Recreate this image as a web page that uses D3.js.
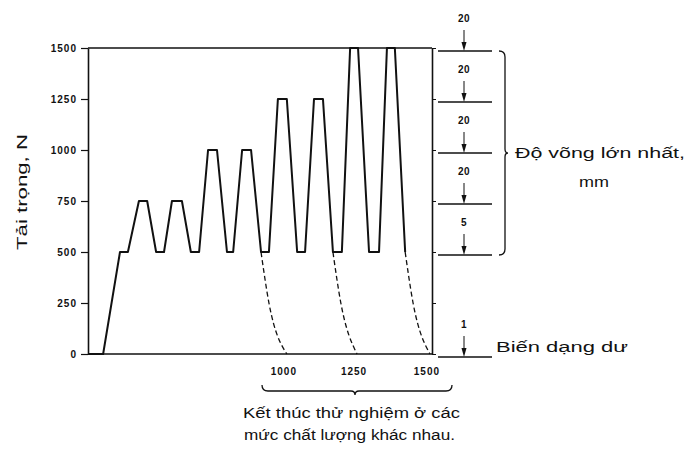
<!DOCTYPE html>
<html>
<head>
<meta charset="utf-8">
<script src="https://cdn.jsdelivr.net/npm/d3@7"></script>
<style>
body { margin: 0; background: #fff; }
text { fill: #111; font-family: "Liberation Sans", Arial, sans-serif; }
</style>
</head>
<body>
<div id="chart"></div>
<script>
// tai trong (N)
const loadTicks = [0, 250, 500, 750, 1000, 1250, 1500];

// load path: time (arbitrary units 0-100) vs load
const pathTime = [0, 4.4, 9.3, 11.6, 14.8, 17.2, 19.8, 22.1, 24.4, 27.3,
    29.9, 32.3, 34.9, 37.5, 40.4, 42.2, 44.8, 47.4, 50.3, 52.6,
    55.2, 57.8, 60.8, 63.1, 65.7, 68.3, 71.2, 73.8, 76.2, 78.5,
    81.7, 84.6, 86.9, 89.2, 92.2];
const pathLoad = [0, 0, 500, 500, 750, 750, 500, 500, 750, 750,
    500, 500, 1000, 1000, 500, 500, 1000, 1000, 500, 500,
    1250, 1250, 500, 500, 1250, 1250, 500, 500, 1500, 1500,
    500, 500, 1500, 1500, 500];

// dashed curves: end of test at different levels
const failLabels = ['1000', '1250', '1500'];
const failTime = [[50.3, 52.6, 57.8], [71.2, 73.5, 78.2], [92.2, 94.5, 99.4]];
const failLoad = [500, 250, 0];

// max deflection (mm) per level, last = residual deformation
const deflLevels = [1500, 1250, 1000, 750, 500, 0];
const deflLabels = ['20', '20', '20', '20', '5', '1'];

const W = 687, H = 461;
const svg = d3.select('#chart').append('svg')
    .attr('width', W)
    .attr('height', H);

const x = d3.scaleLinear().domain([0, 100]).range([88, 432]);
const y = d3.scaleLinear().domain([0, 1500]).range([354, 48]);

// frame
svg.append('line')
    .attr('x1', x(0)).attr('x2', x(100))
    .attr('y1', y(1500)).attr('y2', y(1500))
    .attr('stroke', '#111').attr('stroke-width', 1.6);
svg.append('line')
    .attr('x1', x(0)).attr('x2', x(100))
    .attr('y1', y(0)).attr('y2', y(0))
    .attr('stroke', '#111').attr('stroke-width', 1.6);

const yAxis = svg.append('g')
    .attr('transform', `translate(${x(0)},0)`)
    .call(d3.axisLeft(y).tickValues(loadTicks).tickFormat(d3.format('d'))
        .tickSize(7).tickPadding(4).tickSizeOuter(0));
yAxis.select('.domain').attr('stroke', '#111').attr('stroke-width', 1.6);
yAxis.selectAll('.tick line').attr('stroke', '#111').attr('stroke-width', 1.2);
yAxis.selectAll('.tick text')
    .attr('font-size', 10)
    .attr('font-family', '"Liberation Sans", Arial, sans-serif')
    .attr('font-weight', 'bold')
    .attr('letter-spacing', 1)
    .attr('fill', '#111');

const rAxis = svg.append('g')
    .attr('transform', `translate(${x(100)},0)`)
    .call(d3.axisRight(y).tickValues(loadTicks).tickSize(4).tickFormat('').tickSizeOuter(0));
rAxis.select('.domain').attr('stroke', '#111').attr('stroke-width', 1.6);
rAxis.selectAll('.tick line').attr('stroke', '#111').attr('stroke-width', 1);

// load path
const pts = pathTime.map((t, i) => [t, pathLoad[i]]);
const line = d3.line().x(d => x(d[0])).y(d => y(d[1]));
svg.append('path')
    .attr('d', line(pts))
    .attr('fill', 'none')
    .attr('stroke', '#111')
    .attr('stroke-width', 2)
    .attr('stroke-linejoin', 'round');

// dashed curves
const curve = d3.line().curve(d3.curveMonotoneX).x(d => x(d[0])).y(d => y(d[1]));
failTime.forEach((ts, k) => {
    const p = ts.map((t, i) => [t, failLoad[i]]);
    svg.append('path')
        .attr('d', curve(p))
        .attr('fill', 'none')
        .attr('stroke', '#111')
        .attr('stroke-width', 1.3)
        .attr('stroke-dasharray', '5,3');
    svg.append('text')
        .attr('x', x(ts[2]) - 3)
        .attr('y', 375)
        .attr('text-anchor', 'middle')
        .attr('font-size', 10)
        .attr('font-weight', 'bold')
        .attr('letter-spacing', 1)
        .text(failLabels[k]);
});

// brace under the end labels
svg.append('path')
    .attr('d', 'M262,385 Q262,391 268,391 L351,391 Q355,391 355,395 Q355,391 359,391 L446,391 Q452,391 452,385')
    .attr('fill', 'none').attr('stroke', '#111').attr('stroke-width', 1.3);

svg.append('text')
    .attr('x', 243).attr('y', 418)
    .attr('font-size', 14)
    .attr('textLength', 217).attr('lengthAdjust', 'spacingAndGlyphs')
    .text('Kết thúc thử nghiệm ở các');
svg.append('text')
    .attr('x', 244).attr('y', 440)
    .attr('font-size', 14)
    .attr('textLength', 211).attr('lengthAdjust', 'spacingAndGlyphs')
    .text('mức chất lượng khác nhau.');

// y title
svg.append('text')
    .attr('transform', 'translate(27,192) rotate(-90)')
    .attr('text-anchor', 'middle')
    .attr('font-size', 14)
    .attr('textLength', 116).attr('lengthAdjust', 'spacingAndGlyphs')
    .text('Tải trọng, N');

// right-side deflection markers
const marks = svg.append('g');
deflLevels.forEach((lv, i) => {
    const ly = y(lv) + 3;
    marks.append('line')
        .attr('x1', 438).attr('x2', 492)
        .attr('y1', ly).attr('y2', ly)
        .attr('stroke', '#111').attr('stroke-width', 1.5);
    marks.append('line')
        .attr('x1', 464).attr('x2', 464)
        .attr('y1', ly - 21).attr('y2', ly - 6)
        .attr('stroke', '#111').attr('stroke-width', 1);
    marks.append('path')
        .attr('d', `M461.5,${ly - 9} L466.5,${ly - 9} L464,${ly} Z`)
        .attr('fill', '#111');
    marks.append('text')
        .attr('x', 464).attr('y', ly - 29)
        .attr('text-anchor', 'middle')
        .attr('font-size', 10)
        .attr('font-weight', 'bold')
        .attr('letter-spacing', 0.5)
        .text(deflLabels[i]);
});

// brace for max deflection
const bt = y(1500) + 3, bb = y(500) + 3, bm = (bt + bb) / 2;
svg.append('path')
    .attr('d', `M499,${bt} Q505,${bt} 505,${bt + 6} L505,${bm - 4} Q505,${bm} 508,${bm} Q505,${bm} 505,${bm + 4} L505,${bb - 6} Q505,${bb} 499,${bb}`)
    .attr('fill', 'none').attr('stroke', '#111').attr('stroke-width', 1.3);

svg.append('text')
    .attr('x', 515).attr('y', 158)
    .attr('font-size', 14)
    .attr('textLength', 170).attr('lengthAdjust', 'spacingAndGlyphs')
    .text('Độ võng lớn nhất,');
svg.append('text')
    .attr('x', 594).attr('y', 187)
    .attr('text-anchor', 'middle')
    .attr('font-size', 15)
    .attr('textLength', 30).attr('lengthAdjust', 'spacingAndGlyphs')
    .text('mm');

svg.append('text')
    .attr('x', 496).attr('y', 352)
    .attr('font-size', 14)
    .attr('textLength', 132).attr('lengthAdjust', 'spacingAndGlyphs')
    .text('Biến dạng dư');
</script>
</body>
</html>
